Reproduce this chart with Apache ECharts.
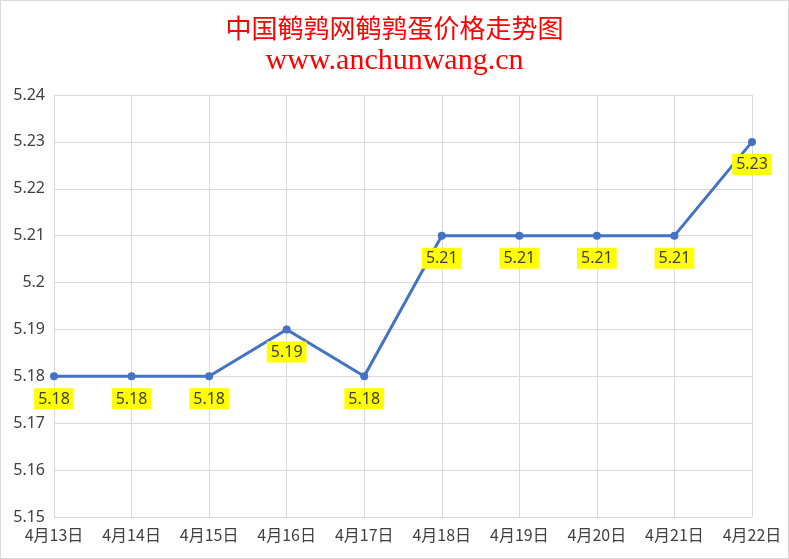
<!DOCTYPE html>
<html>
<head>
<meta charset="utf-8">
<script src="https://cdn.jsdelivr.net/npm/echarts@6/dist/echarts.min.js"></script>
<style>
    html, body {margin: 0; padding: 0; background: #fff;}
    #chart {width: 787px; height: 557px; border: 1px solid #d9d9d9;}
</style>
</head>
<body>
<div id="chart"></div>
<script>
// 鹌鹑蛋价格 data
var dates = ['4月13日','4月14日','4月15日','4月16日','4月17日','4月18日','4月19日','4月20日','4月21日','4月22日'];
var prices = [5.18, 5.18, 5.18, 5.19, 5.18, 5.21, 5.21, 5.21, 5.21, 5.23];
var yMin = 5.15;
var yMax = 5.24;
var yStep = 0.01;

var chart = echarts.init(document.getElementById('chart'));
var option = {
    animation: false,
    title: [
        {
            text: '中国鹌鹑网鹌鹑蛋价格走势图',
            left: 'center',
            top: 9,
            textStyle: {
                color: '#ff0000',
                fontFamily: 'Noto Sans CJK SC',
                fontWeight: 'normal',
                fontSize: 26
            }
        },
        {
            text: 'www.anchunwang.cn',
            left: 'center',
            top: 40,
            textStyle: {
                color: '#ff0000',
                fontFamily: 'Liberation Serif',
                fontWeight: 'normal',
                fontSize: 30
            }
        }
    ],
    grid: {
        left: 53,
        right: 36,
        top: 94,
        bottom: 41
    },
    xAxis: {
        type: 'category',
        boundaryGap: false,
        data: dates,
        axisLine: {show: false},
        axisTick: {show: false},
        splitLine: {show: true, lineStyle: {color: '#d9d9d9'}},
        axisLabel: {
            color: '#404040',
            fontSize: 16,
            fontFamily: 'Noto Sans CJK SC',
            margin: 10
        }
    },
    yAxis: {
        type: 'value',
        min: yMin,
        max: yMax,
        interval: yStep,
        axisLine: {show: false},
        axisTick: {show: false},
        splitLine: {lineStyle: {color: '#d9d9d9'}},
        axisLabel: {
            color: '#404040',
            fontSize: 16,
            fontFamily: 'Noto Sans',
            margin: 9,
            formatter: function (v) {
                return parseFloat(v.toFixed(2)).toString();
            }
        }
    },
    series: [
        {
            name: '价格',
            type: 'line',
            data: prices,
            symbol: 'circle',
            symbolSize: 8,
            itemStyle: {color: '#4472c4'},
            lineStyle: {color: '#4472c4', width: 3},
            label: {
                show: true,
                position: 'bottom',
                distance: 8,
                backgroundColor: '#ffff00',
                color: '#404040',
                fontSize: 16,
                fontFamily: 'Noto Sans',
                padding: [3, 4, 2, 4],
                formatter: function (p) {
                    return p.value.toFixed(2);
                }
            }
        }
    ]
};
chart.setOption(option);
</script>
</body>
</html>
